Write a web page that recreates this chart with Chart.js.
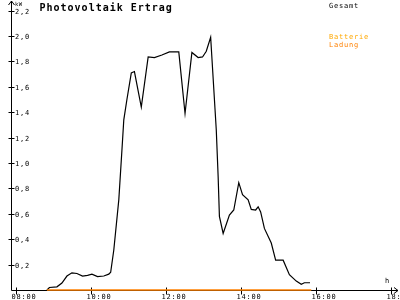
<!DOCTYPE html>
<html>
<head>
<meta charset="utf-8">
<script src="https://cdn.jsdelivr.net/npm/chart.js@4"></script>
<style>
  body { margin: 0; background: #fff; }
  canvas { display: block; }
</style>
</head>
<body>
<canvas id="pvChart" width="400" height="300"></canvas>
<script>
// PV yield (kW)
var times = ['08:50','08:54','09:06','09:14','09:22','09:30','09:38','09:47','09:55','10:02',
  '10:11','10:21','10:29','10:32','10:37','10:45','10:50','10:53','10:58','11:05',
  '11:10','11:21','11:32','11:42','11:54','12:06','12:21','12:31','12:42','12:52',
  '12:59','13:05','13:12','13:21','13:24','13:26','13:32','13:42','13:49','13:57',
  '14:03','14:12','14:17','14:24','14:28','14:32','14:38','14:49','14:56','15:08',
  '15:18','15:29','15:37','15:42','15:51'];
var gesamt = [0, 0.02, 0.025, 0.055, 0.11, 0.135, 0.13, 0.11, 0.115, 0.125,
  0.105, 0.11, 0.125, 0.14, 0.315, 0.71, 1.10, 1.34, 1.50, 1.71,
  1.72, 1.44, 1.835, 1.83, 1.85, 1.875, 1.875, 1.39, 1.87, 1.83,
  1.835, 1.88, 1.99, 1.26, 0.89, 0.58, 0.445, 0.59, 0.63, 0.845,
  0.75, 0.71, 0.635, 0.63, 0.655, 0.615, 0.485, 0.37, 0.235, 0.235,
  0.12, 0.07, 0.045, 0.057, 0.057];

var batteryTimes = ['08:50', '15:53'];
var batteryLadung = [0, 0];

var xTickLabels = ['08:00', '10:00', '12:00', '14:00', '16:00', '18:00'];
var yTickLabels = ['0,2', '0,4', '0,6', '0,8', '1,0', '1,2', '1,4', '1,6', '1,8', '2,0', '2,2'];

function toHours(t) {
  var p = t.split(':');
  return parseInt(p[0], 10) + parseInt(p[1], 10) / 60;
}
function points(ts, vals) {
  return ts.map(function(t, i) { return { x: toHours(t), y: vals[i] }; });
}

var ORANGE = '#ff8000';
var smallFont = '7px "DejaVu Sans Mono"';

// draws the arrow axes, ticks and labels
var axesPlugin = {
  id: 'arrowAxes',
  beforeDatasetsDraw: function(chart) {
    var ctx = chart.ctx;
    var xs = chart.scales.x, ys = chart.scales.y;
    var ax = Math.round(xs.getPixelForValue(xs.min)) + 0.5;
    var ay = Math.round(ys.getPixelForValue(0)) + 0.5;
    ctx.save();
    ctx.strokeStyle = '#000';
    ctx.fillStyle = '#000';
    ctx.lineWidth = 1;
    ctx.beginPath();
    ctx.moveTo(ax, ay); ctx.lineTo(ax, 1);
    ctx.moveTo(ax - 3, 5); ctx.lineTo(ax, 1); ctx.lineTo(ax + 3, 5);
    ctx.moveTo(ax, ay); ctx.lineTo(398, ay);
    ctx.moveTo(394, ay - 3); ctx.lineTo(398, ay); ctx.lineTo(394, ay + 3);
    ctx.stroke();

    ctx.font = smallFont;
    ctx.letterSpacing = '0.8px';
    ctx.textBaseline = 'alphabetic';
    yTickLabels.forEach(function(lbl) {
      var py = Math.round(ys.getPixelForValue(parseFloat(lbl.replace(',', '.')))) + 0.5;
      ctx.beginPath();
      ctx.moveTo(ax - 3, py); ctx.lineTo(ax + 3, py);
      ctx.stroke();
      ctx.fillText(lbl, 15, py + 2.5);
    });
    xTickLabels.forEach(function(lbl) {
      var px = Math.round(xs.getPixelForValue(toHours(lbl))) + 0.5;
      ctx.beginPath();
      ctx.moveTo(px, ay - 3); ctx.lineTo(px, ay + 4);
      ctx.stroke();
      ctx.fillText(lbl, px - 5, 298.5);
    });
    ctx.fillText('h', 385, 283);
    ctx.font = '5.5px "DejaVu Sans Mono"';
    ctx.letterSpacing = '0.5px';
    ctx.fillText('kW', 15, 6);
    ctx.restore();
  },
  afterDraw: function(chart) {
    var ctx = chart.ctx;
    ctx.save();
    ctx.font = 'bold 10px "DejaVu Sans Mono"';
    ctx.letterSpacing = '1px';
    ctx.fillStyle = '#000';
    ctx.fillText('Photovoltaik Ertrag', 39.5, 10.8);
    ctx.font = smallFont;
    ctx.letterSpacing = '0.8px';
    ctx.fillText('Gesamt', 329, 7.5);
    ctx.fillStyle = '#ffa800';
    ctx.fillText('Batterie', 329, 38.5);
    ctx.fillStyle = ORANGE;
    ctx.fillText('Ladung', 329, 46.5);
    ctx.restore();
  }
};

var ctx = document.getElementById('pvChart').getContext('2d');
new Chart(ctx, {
  type: 'line',
  data: {
    datasets: [{
      label: 'Batterie Ladung',
      data: points(batteryTimes, batteryLadung),
      borderColor: ORANGE,
      borderWidth: 1.6,
      pointRadius: 0,
      clip: false
    }, {
      label: 'Gesamt',
      data: points(times, gesamt),
      borderColor: '#000',
      borderWidth: 1.2,
      pointRadius: 0,
      tension: 0,
      clip: false
    }]
  },
  options: {
    responsive: false,
    animation: false,
    layout: { padding: { left: 11, right: 0, top: 10.6, bottom: 10 } },
    scales: {
      x: { type: 'linear', min: 7.875, max: 18.25, display: false },
      y: { min: 0, max: 2.2, display: false }
    },
    plugins: {
      legend: { display: false },
      tooltip: { enabled: false }
    }
  },
  plugins: [axesPlugin]
});
</script>
</body>
</html>
